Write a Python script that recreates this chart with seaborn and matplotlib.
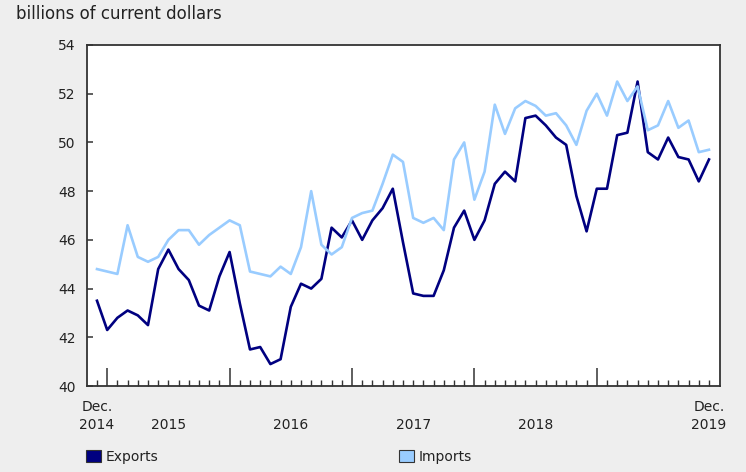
import numpy as np
import pandas as pd
import matplotlib
matplotlib.use("Agg")
import matplotlib.pyplot as plt
import seaborn as sns
from matplotlib.patches import Patch
from matplotlib.ticker import FixedLocator
import matplotlib.transforms as mtransforms

# ---- data (monthly, Dec 2014 .. Dec 2019) ----
months = pd.date_range("2014-12-01", "2019-12-01", freq="MS")
exports = [43.5, 42.3, 42.8, 43.1, 42.9, 42.5, 44.8, 45.6, 44.8, 44.35, 43.3, 43.1,
           44.5, 45.5, 43.4, 41.5, 41.6, 40.9, 41.1, 43.25, 44.2, 44.0, 44.4, 46.5,
           46.1, 46.8, 46.0, 46.8, 47.3, 48.1, 45.9, 43.8, 43.7, 43.7, 44.75, 46.5,
           47.2, 46.0, 46.8, 48.3, 48.8, 48.4, 51.0, 51.1, 50.7, 50.2, 49.9, 47.8,
           46.35, 48.1, 48.1, 50.3, 50.4, 52.5, 49.6, 49.3, 50.2, 49.4, 49.3, 48.4,
           49.3]
imports = [44.8, 44.7, 44.6, 46.6, 45.3, 45.1, 45.3, 46.0, 46.4, 46.4, 45.8, 46.2,
           46.5, 46.8, 46.6, 44.7, 44.6, 44.5, 44.9, 44.6, 45.7, 48.0, 45.8, 45.4,
           45.7, 46.9, 47.1, 47.2, 48.3, 49.5, 49.2, 46.9, 46.7, 46.9, 46.4, 49.3,
           50.0, 47.65, 48.8, 51.55, 50.35, 51.4, 51.7, 51.5, 51.1, 51.2, 50.7, 49.9,
           51.3, 52.0, 51.1, 52.5, 51.7, 52.3, 50.5, 50.7, 51.7, 50.6, 50.9, 49.6,
           49.7]
series_names = ["Exports", "Imports"]
colors = ["#000080", "#99CCFF"]
y_ticks = [40, 42, 44, 46, 48, 50, 52, 54]
year_labels = ["2015", "2016", "2017", "2018"]
title = "billions of current dollars"

idx = np.arange(len(months))
df = pd.DataFrame({
    "idx": np.concatenate([idx, idx]),
    "value": exports + imports,
    "series": [series_names[0]] * len(idx) + [series_names[1]] * len(idx),
})

bg = "#EEEEEE"
edge = "#333333"
txt = "#222222"
plt.rcParams["font.family"] = ["DejaVu Sans"]

fig = plt.figure(figsize=(7.46, 4.72), dpi=100, facecolor=bg)
ax = fig.add_axes([87 / 746, (472 - 386) / 472, (720 - 87) / 746, (386 - 45) / 472])
ax.set_facecolor("white")

sns.lineplot(data=df, x="idx", y="value", hue="series", palette=colors,
             linewidth=1.9, ax=ax, legend=False)

ax.set_xlim(-0.98, len(idx) - 1 + 1.08)
ax.set_ylim(40, 54)
ax.set_xlabel("")
ax.set_ylabel("")

for s in ax.spines.values():
    s.set_color(edge)
    s.set_linewidth(1.3)

ax.set_yticks(y_ticks)
ax.set_yticklabels([str(v) for v in y_ticks])
ax.tick_params(axis="y", direction="in", length=4.5, width=1.1, color=edge,
               labelsize=10, pad=8, labelcolor=txt)

# x ticks: minor every month, major every January
jan_idx = [i for i, m in enumerate(months) if m.month == 1]
ax.xaxis.set_major_locator(FixedLocator(jan_idx))
ax.xaxis.set_minor_locator(FixedLocator(list(idx)))
ax.tick_params(axis="x", which="major", direction="in", length=13, width=1.1,
               color=edge, labelbottom=False)
ax.tick_params(axis="x", which="minor", direction="in", length=4.5, width=1.0,
               color=edge, labelbottom=False)

trans = mtransforms.blended_transform_factory(ax.transData, fig.transFigure)
y_dec = 1 - 407 / 472
y_year = 1 - 425 / 472
fs = 10
ax.text(0, y_dec, "Dec.", transform=trans, ha="center", va="center", fontsize=fs, color=txt)
ax.text(0, y_year, "2014", transform=trans, ha="center", va="center", fontsize=fs, color=txt)
ax.text(len(idx) - 1, y_dec, "Dec.", transform=trans, ha="center", va="center", fontsize=fs, color=txt)
ax.text(len(idx) - 1, y_year, "2019", transform=trans, ha="center", va="center", fontsize=fs, color=txt)
for k, lab in enumerate(year_labels):
    ax.text(jan_idx[k] + 6, y_year, lab, transform=trans, ha="center", va="center",
            fontsize=fs, color=txt)

fig.text(16 / 746, 1 - 14 / 472, title, ha="left", va="center", fontsize=12, color=txt)

# legend
leg_y = 1 - 457 / 472
h1 = [Patch(facecolor=colors[0], edgecolor="#333333", linewidth=0.8)]
h2 = [Patch(facecolor=colors[1], edgecolor="#333333", linewidth=0.8)]
leg_kw = dict(loc="center left", frameon=False, fontsize=fs, handlelength=1.05,
              handleheight=1.0, handletextpad=0.35, borderpad=0, borderaxespad=0)
leg1 = fig.legend(h1, [series_names[0]], bbox_to_anchor=(86 / 746, leg_y), **leg_kw)
leg2 = fig.legend(h2, [series_names[1]], bbox_to_anchor=(399 / 746, leg_y), **leg_kw)
for leg in (leg1, leg2):
    for t in leg.get_texts():
        t.set_color(txt)

fig.savefig("out.png", dpi=100, facecolor=bg)
